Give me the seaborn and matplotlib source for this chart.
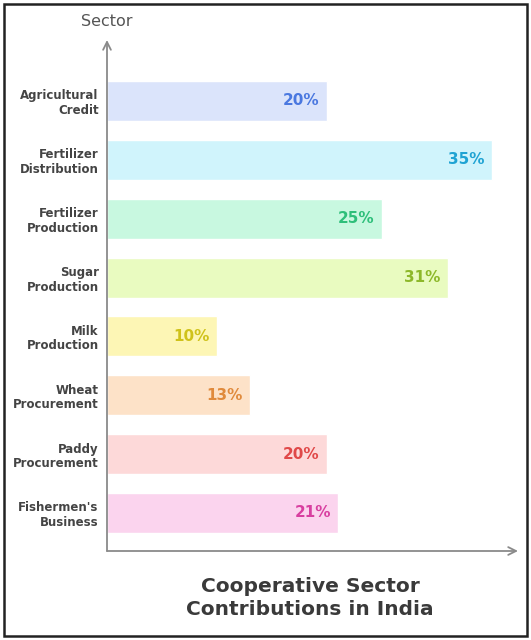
import matplotlib
matplotlib.use("Agg")
import matplotlib.pyplot as plt
import seaborn as sns
import pandas as pd
from matplotlib.patches import Rectangle

categories = ["Agricultural\nCredit", "Fertilizer\nDistribution", "Fertilizer\nProduction",
              "Sugar\nProduction", "Milk\nProduction", "Wheat\nProcurement",
              "Paddy\nProcurement", "Fishermen's\nBusiness"]
values = [20, 35, 25, 31, 10, 13, 20, 21]
bar_colors = ["#dbe4fb", "#d0f4fc", "#c8f8e0", "#e9fbc0", "#fdf6b5", "#fde2c8", "#fdd9d9", "#fbd4ee"]
text_colors = ["#4a78e0", "#1fa3d3", "#2ebf7a", "#8db82a", "#cfc21a", "#e08a3c", "#e04848", "#d83fa0"]

sns.set_style("white")
plt.rcParams['font.family'] = ['DejaVu Sans']

df = pd.DataFrame({"Sector": categories, "Value": values})

fig = plt.figure(figsize=(5.31, 6.4), dpi=100)
ax = fig.add_axes([107/531, 1-551/640, (518-107)/531, (551-40)/640])

sns.barplot(data=df, x="Value", y="Sector", hue="Sector", palette=bar_colors,
            orient="h", width=0.68, legend=False, ax=ax, saturation=1)

for i, (v, c) in enumerate(zip(values, text_colors)):
    ax.annotate(f"{v}%", xy=(v, i), xytext=(-5, 0), textcoords="offset points",
                ha="right", va="center", color=c, fontsize=11, fontweight="bold")

ax.set_xlim(0, 37.4)
ax.set_ylim(7.646, -1.036)
for s in ax.spines.values():
    s.set_visible(False)
ax.set_xticks([])
ax.tick_params(axis="y", length=0, pad=6)
for lbl in ax.get_yticklabels():
    lbl.set_fontsize(8.5)
    lbl.set_fontweight("bold")
    lbl.set_color("#444444")
    lbl.set_linespacing(1.15)
ax.set_xlabel("")
ax.set_ylabel("")

arrow_kw = dict(arrowstyle="->", color="#8a8a8a", lw=1.3, mutation_scale=14, shrinkA=0, shrinkB=0)
ax.annotate("", xy=(0, 1), xytext=(0, 0), xycoords="axes fraction", arrowprops=arrow_kw)
ax.annotate("", xy=(1, 0), xytext=(0, 0), xycoords="axes fraction", arrowprops=arrow_kw)

fig.text(107/531, 1-22/640, "Sector", ha="center", va="center", fontsize=11.5, color="#555555")
fig.text(310/531, 1-598/640, "Cooperative Sector\nContributions in India", ha="center", va="center",
         fontsize=14.5, fontweight="bold", color="#3a3a3a", linespacing=1.3)

fig.patches.append(Rectangle((4/531, 4/640), 523/531, 632/640, transform=fig.transFigure,
                             fill=False, edgecolor="#222222", lw=1.8))

fig.savefig("out.png", dpi=100)
